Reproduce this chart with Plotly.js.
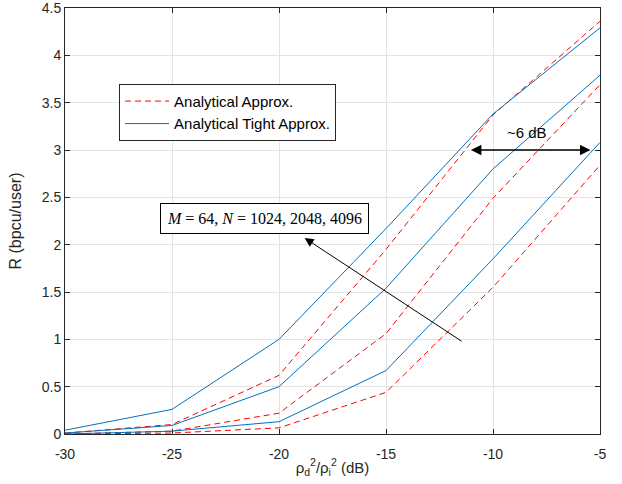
<!DOCTYPE html>
<html>
<head>
<meta charset="utf-8">
<script src="https://cdn.plot.ly/plotly-3.0.1.min.js"></script>
<style>html,body{margin:0;padding:0;background:#fff;}#chart{width:622px;height:484px;}</style>
</head>
<body>
<div id="chart"></div>
<script>
const snr = [-30, -25, -20, -15, -10, -5];
const approx_N1024 = [0.00, 0.01, 0.065, 0.44, 1.55, 2.84];
const approx_N2048 = [0.00, 0.03, 0.22, 1.06, 2.49, 3.69];
const approx_N4096 = [0.01, 0.10, 0.62, 1.95, 3.37, 4.36];
const tight_N1024 = [0.00, 0.03, 0.13, 0.67, 1.85, 3.08];
const tight_N2048 = [0.01, 0.09, 0.50, 1.54, 2.80, 3.79];
const tight_N4096 = [0.04, 0.26, 1.00, 2.17, 3.38, 4.29];
const seriesNames = ['Analytical Approx.', 'Analytical Tight Approx.'];
const xTicks = [-30, -25, -20, -15, -10, -5];
const yTicks = [0, 0.5, 1, 1.5, 2, 2.5, 3, 3.5, 4, 4.5];
const yTickText = ['0', '0.5', '1', '1.5', '2', '2.5', '3', '3.5', '4', '4.5'];

const red = '#FF0000', blue = '#0072BD';
const redLine = {color: red, width: 1, dash: '6px,4px'};
const blueLine = {color: blue, width: 1};

const traces = [
  {x: snr, y: approx_N4096, mode: 'lines', line: redLine, name: seriesNames[0], showlegend: true, legendgroup: 'a'},
  {x: snr, y: approx_N2048, mode: 'lines', line: redLine, name: seriesNames[0], showlegend: false, legendgroup: 'a'},
  {x: snr, y: approx_N1024, mode: 'lines', line: redLine, name: seriesNames[0], showlegend: false, legendgroup: 'a'},
  {x: snr, y: tight_N4096, mode: 'lines', line: blueLine, name: seriesNames[1], showlegend: true, legendgroup: 'b'},
  {x: snr, y: tight_N2048, mode: 'lines', line: blueLine, name: seriesNames[1], showlegend: false, legendgroup: 'b'},
  {x: snr, y: tight_N1024, mode: 'lines', line: blueLine, name: seriesNames[1], showlegend: false, legendgroup: 'b'}
];

const axCommon = {
  showline: true, linecolor: '#262626', linewidth: 1, mirror: 'ticks',
  ticks: 'inside', ticklen: 5, tickcolor: '#262626',
  showgrid: true, gridcolor: '#e3e3e3', gridwidth: 1, zeroline: false,
  ticklabeloverflow: 'allow',
  tickfont: {family: 'Liberation Sans, Arial, sans-serif', size: 14, color: '#262626'}
};

const layout = {
  width: 622, height: 484,
  margin: {l: 65, r: 22, t: 8, b: 50},
  paper_bgcolor: '#fff', plot_bgcolor: '#fff',
  font: {family: 'Liberation Sans, Arial, sans-serif', color: '#262626'},
  xaxis: Object.assign({}, axCommon, {
    range: [-30, -5], tickvals: xTicks, ticktext: xTicks.map(String),
    ticklabelstandoff: 7,
    title: {text: 'ρ<sub>d</sub><sup>2</sup>/ρ<sub>i</sub><sup>2</sup> (dB)', font: {size: 15, color: '#262626'}, standoff: 1}
  }),
  yaxis: Object.assign({}, axCommon, {
    range: [0, 4.5], tickvals: yTicks, ticktext: yTickText,
    title: {text: 'R (bpcu/user)', font: {size: 16, color: '#262626'}, standoff: 16}
  }),
  legend: {
    x: 0.101, y: 0.822, xanchor: 'left', yanchor: 'top',
    bgcolor: '#fff', bordercolor: '#262626', borderwidth: 1,
    font: {size: 15, color: '#000'}, tracegroupgap: 0, itemwidth: 44
  },
  annotations: [
    {x: -20.7, y: 2.28, xref: 'x', yref: 'y', showarrow: false,
     text: '<i>M</i> = 64, <i>N</i> = 1024, 2048, 4096',
     font: {family: 'Liberation Serif, DejaVu Serif, serif', size: 16, color: '#000'},
     bgcolor: '#fff', bordercolor: '#000', borderwidth: 1, borderpad: 6},
    {x: -18.8, y: 2.07, ax: -11.4, ay: 0.97, xref: 'x', yref: 'y', axref: 'x', ayref: 'y',
     showarrow: true, arrowhead: 2, arrowsize: 1.8, arrowwidth: 1, arrowcolor: '#000', text: ''},
    {x: -5.45, y: 3.0, ax: -11.1, ay: 3.0, xref: 'x', yref: 'y', axref: 'x', ayref: 'y',
     showarrow: true, arrowhead: 2, startarrowhead: 2, arrowside: 'end+start',
     arrowsize: 1.6, startarrowsize: 1.6, arrowwidth: 1.3, arrowcolor: '#000', text: ''},
    {x: -8.4, y: 3.18, xref: 'x', yref: 'y', showarrow: false, text: '~6 dB',
     font: {family: 'Liberation Sans, Arial, sans-serif', size: 15, color: '#000'}}
  ]
};

Plotly.newPlot('chart', traces, layout, {displayModeBar: false, staticPlot: true});
</script>
</body>
</html>
